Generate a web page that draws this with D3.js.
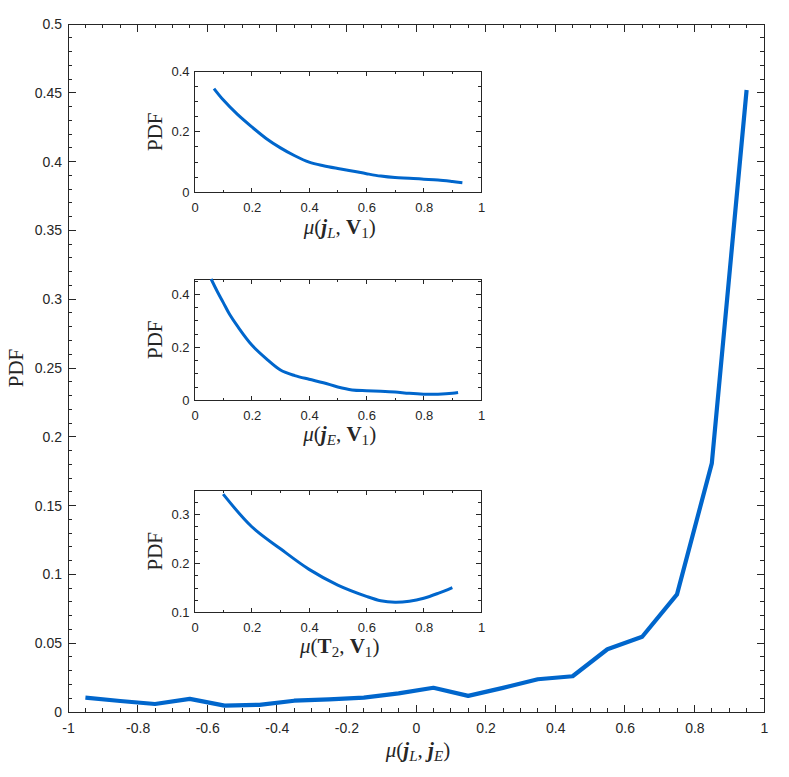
<!DOCTYPE html>
<html><head><meta charset="utf-8">
<script src="https://cdn.jsdelivr.net/npm/d3@7"></script>
<style>body{margin:0;background:#fff}svg{display:block}</style>
</head><body><svg id="c" width="789" height="777"></svg>
<script>
// ---- data ----
const mainX = [-0.95,-0.85,-0.75,-0.65,-0.55,-0.45,-0.35,-0.25,-0.15,-0.05,0.05,0.15,0.25,0.35,0.45,0.55,0.65,0.75,0.85,0.95];
const mainY = [0.0104,0.008,0.0058,0.0095,0.0046,0.0052,0.0082,0.0092,0.0105,0.0135,0.0176,0.0117,0.0175,0.0238,0.026,0.0456,0.0547,0.0855,0.1807,0.452];
const mainXTicks = [-1,-0.8,-0.6,-0.4,-0.2,0,0.2,0.4,0.6,0.8,1];
const mainYTicks = [0,0.05,0.1,0.15,0.2,0.25,0.3,0.35,0.4,0.45,0.5];

const in1X = [0.068,0.1,0.15,0.2,0.25,0.3,0.35,0.4,0.45,0.5,0.55,0.6,0.65,0.7,0.75,0.8,0.85,0.9,0.935];
const in1Y = [0.342,0.305,0.257,0.216,0.178,0.147,0.121,0.100,0.088,0.079,0.071,0.062,0.054,0.049,0.047,0.044,0.041,0.036,0.032];

const in2X = [0.058,0.08,0.1,0.124,0.15,0.2,0.25,0.3,0.35,0.4,0.45,0.5,0.55,0.6,0.65,0.7,0.75,0.8,0.85,0.9,0.92];
const in2Y = [0.458,0.41,0.37,0.322,0.28,0.209,0.158,0.115,0.094,0.08,0.067,0.051,0.040,0.037,0.035,0.032,0.027,0.024,0.024,0.027,0.030];

const in3X = [0.10,0.2,0.3,0.4,0.5,0.6,0.65,0.7,0.75,0.8,0.85,0.9];
const in3Y = [0.3415,0.275,0.230,0.188,0.156,0.133,0.124,0.121,0.123,0.129,0.139,0.151];

const inXTicks = [0,0.2,0.4,0.6,0.8,1];
const in1YTicks = [0,0.2,0.4];
const in2YTicks = [0,0.2,0.4];
const in3YTicks = [0.1,0.2,0.3];

// ---- drawing ----
const svg = d3.select('#c');
const blue = '#0066cc';
const axisCol = '#262626';
const tickFont = '"Liberation Sans", Arial, Helvetica, sans-serif';
const serif = '"Liberation Serif", "DejaVu Serif", serif';

function fmt(v){ return (Math.abs(v) < 1e-9) ? '0' : String(+v.toFixed(2)); }

function panel(o){
  const x = d3.scaleLinear().domain(o.xd).range([o.l, o.r]);
  const y = d3.scaleLinear().domain(o.yd).range([o.b, o.t]);
  const g = svg.append('g');
  const id = 'clip' + Math.round(o.l) + Math.round(o.t);
  svg.append('clipPath').attr('id', id).append('rect')
    .attr('x', o.l).attr('y', o.t - 2).attr('width', o.r - o.l).attr('height', o.b - o.t + 2);
  g.append('rect').attr('x', o.l).attr('y', o.t).attr('width', o.r - o.l).attr('height', o.b - o.t)
    .attr('fill', 'none').attr('stroke', axisCol).attr('stroke-width', 1).attr('shape-rendering','crispEdges');
  const tk = g.append('g').attr('stroke', axisCol).attr('stroke-width', 1).attr('shape-rendering','crispEdges');
  const xMinor = d3.range(o.xd[0], o.xd[1] + 1e-9, o.xMinor);
  const yMinor = d3.range(o.yd[0], o.yd[1] + 1e-9, o.yMinor);
  function isMajor(v, ticks){ return ticks.some(t => Math.abs(t - v) < 1e-6); }
  xMinor.forEach(v => {
    const L = isMajor(v, o.xt) ? o.major : o.minor;
    const px = x(v);
    tk.append('line').attr('x1', px).attr('x2', px).attr('y1', o.b).attr('y2', o.b - L);
    tk.append('line').attr('x1', px).attr('x2', px).attr('y1', o.t).attr('y2', o.t + L);
  });
  yMinor.forEach(v => {
    const L = isMajor(v, o.yt) ? o.major : o.minor;
    const py = y(v);
    if (py < o.t - 0.5) return;
    tk.append('line').attr('y1', py).attr('y2', py).attr('x1', o.l).attr('x2', o.l + L);
    tk.append('line').attr('y1', py).attr('y2', py).attr('x1', o.r).attr('x2', o.r - L);
  });
  const ax = g.append('g').attr('transform', `translate(0,${o.b})`)
    .call(d3.axisBottom(x).tickValues(o.xt).tickSize(0).tickPadding(o.xpad).tickFormat(fmt));
  const ay = g.append('g').attr('transform', `translate(${o.l},0)`)
    .call(d3.axisLeft(y).tickValues(o.yt).tickSize(0).tickPadding(o.ypad).tickFormat(fmt));
  [ax, ay].forEach(a => {
    a.select('.domain').remove();
    a.selectAll('text').attr('font-family', tickFont).attr('font-size', o.fs).attr('fill', axisCol);
  });
  const line = d3.line().x(d => x(d[0])).y(d => y(d[1]));
  if (o.curve) line.curve(o.curve);
  g.append('path').datum(o.xs.map((v, i) => [v, o.ys[i]]))
    .attr('clip-path', `url(#${id})`)
    .attr('d', line).attr('fill', 'none').attr('stroke', blue)
    .attr('stroke-width', o.lw).attr('stroke-linejoin', 'round');
  svg.append('text').attr('transform', `translate(${o.ylx},${(o.t + o.b) / 2}) rotate(-90)`)
    .attr('text-anchor', 'middle').attr('dominant-baseline', 'central')
    .attr('font-family', serif).attr('font-size', o.lfs).attr('fill', axisCol).text('PDF');
  const xl = svg.append('text').attr('x', (o.l + o.r) / 2 + 2).attr('y', o.xly)
    .attr('text-anchor', 'middle').attr('font-family', serif).attr('font-size', o.lfs).attr('fill', axisCol);
  o.xlabel(xl);
}

function muLabel(a, aSub, aStyle, b, bSub, bStyle){
  return function(t){
    const subStyle = s => (s === 'L' || s === 'E') ? 'italic' : 'normal';
    t.append('tspan').attr('font-style', 'italic').text('μ');
    t.append('tspan').text('(');
    t.append('tspan').attr('font-weight', 'bold').attr('font-style', aStyle).text(a);
    t.append('tspan').attr('font-size', '72%').attr('dy', 4).attr('font-style', subStyle(aSub)).text(aSub);
    t.append('tspan').attr('dy', -4).text(', ');
    t.append('tspan').attr('font-weight', 'bold').attr('font-style', bStyle).text(b);
    t.append('tspan').attr('font-size', '72%').attr('dy', 4).attr('font-style', subStyle(bSub)).text(bSub);
    t.append('tspan').attr('dy', -4).text(')');
  };
}

// main
panel({l: 68, r: 764, t: 24, b: 712, xd: [-1, 1], yd: [0, 0.5],
  xt: mainXTicks, yt: mainYTicks, xMinor: 0.05, yMinor: 0.01, major: 7.5, minor: 4,
  xs: mainX, ys: mainY, lw: 4.2, fs: 14, xpad: 11, ypad: 6,
  lfs: 21, ylx: 16, xly: 757,
  xlabel: muLabel('j', 'L', 'italic', 'j', 'E', 'italic')});

const insetCommon = {l: 194.5, r: 481, xd: [0, 1], xt: inXTicks, xMinor: 0.1, major: 5, minor: 3,
  lw: 3, fs: 13, xpad: 10, ypad: 5, lfs: 21, ylx: 155, curve: d3.curveCatmullRom};

panel(Object.assign({}, insetCommon, {t: 71, b: 192.5, yd: [0, 0.4], yt: in1YTicks, yMinor: 0.05,
  xs: in1X, ys: in1Y, xly: 234, xlabel: muLabel('j', 'L', 'italic', 'V', '1', 'normal')}));
panel(Object.assign({}, insetCommon, {t: 279, b: 400.5, yd: [0, 0.458], yt: in2YTicks, yMinor: 0.05,
  xs: in2X, ys: in2Y, xly: 441, xlabel: muLabel('j', 'E', 'italic', 'V', '1', 'normal')}));
panel(Object.assign({}, insetCommon, {t: 490, b: 612.5, yd: [0.1, 0.35], yt: in3YTicks, yMinor: 0.025,
  xs: in3X, ys: in3Y, xly: 653, xlabel: muLabel('T', '2', 'normal', 'V', '1', 'normal')}));
</script></body></html>
